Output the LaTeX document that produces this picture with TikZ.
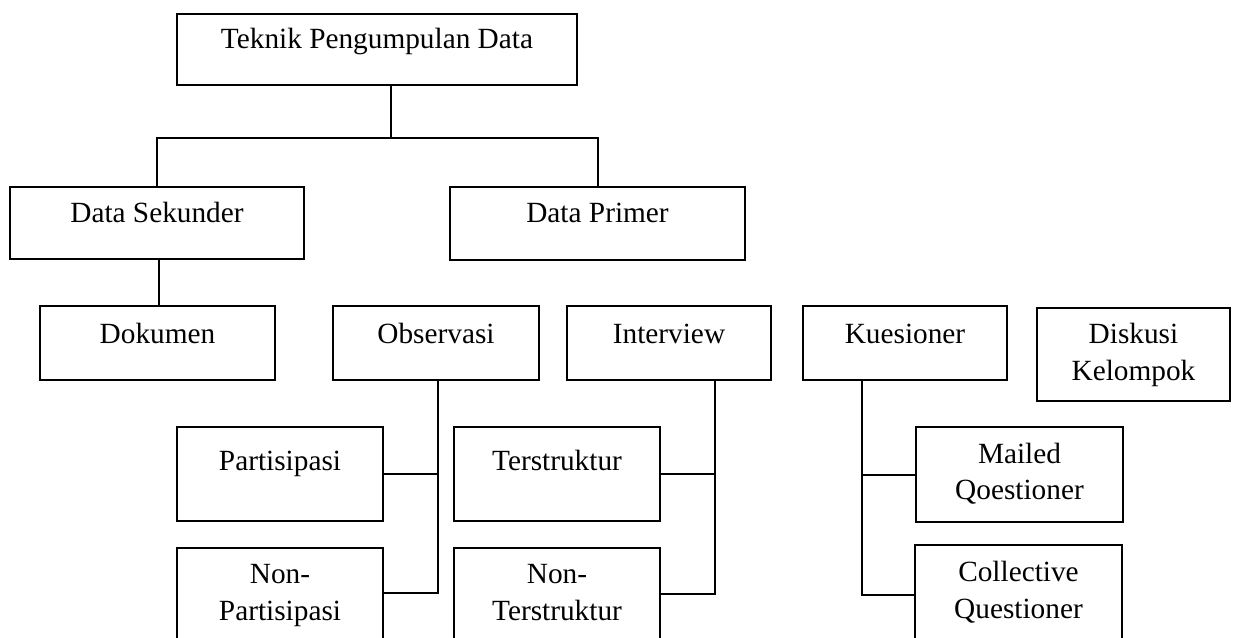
\documentclass[tikz,border=0pt]{standalone}
\usepackage{fontspec}
\setmainfont{Liberation Serif}
\newcommand\mlines[1]{\begin{tabular}[t]{@{}c@{}}#1\end{tabular}}
\begin{document}
\begin{tikzpicture}[x=1pt,y=-1pt,
  box/.style={draw, line width=2.5pt, rectangle, inner sep=0pt},
  txt/.style={anchor=base, inner sep=0pt, font=\fontsize{29.3}{36.5}\selectfont},
  conn/.style={line width=2pt}]
\useasboundingbox (0,0) rectangle (1233,637);
\clip (0,0) rectangle (1233,637);
% boxes
\node[box, minimum width=400pt, minimum height=71pt] (root) at (377,49.5) {};
\node[box, minimum width=294pt, minimum height=72pt] (sek) at (157,223) {};
\node[box, minimum width=295pt, minimum height=73pt] (prim) at (597.5,223.5) {};
\node[box, minimum width=235pt, minimum height=74pt] (dok) at (157.5,343) {};
\node[box, minimum width=206pt, minimum height=74pt] (obs) at (436,343) {};
\node[box, minimum width=204pt, minimum height=74pt] (int) at (669,343) {};
\node[box, minimum width=204pt, minimum height=74pt] (kue) at (905,343) {};
\node[box, minimum width=193pt, minimum height=93pt] (disk) at (1133.5,354.5) {};
\node[box, minimum width=206pt, minimum height=94pt] (part) at (280,474) {};
\node[box, minimum width=206pt, minimum height=112pt] (npart) at (280,604) {};
\node[box, minimum width=206pt, minimum height=94pt] (ters) at (557,474) {};
\node[box, minimum width=206pt, minimum height=112pt] (nters) at (557,604) {};
\node[box, minimum width=207pt, minimum height=95pt] (mail) at (1019.5,474.5) {};
\node[box, minimum width=207pt, minimum height=115pt] (coll) at (1018.5,602.5) {};
% texts
\node[txt] (root-t) at ([yshift=-35.5pt]root.north) {Teknik Pengumpulan Data};
\node[txt] (sek-t) at ([yshift=-37pt]sek.north) {Data Sekunder};
\node[txt] (prim-t) at ([yshift=-37pt]prim.north) {Data Primer};
\node[txt] (dok-t) at ([yshift=-39pt]dok.north) {Dokumen};
\node[txt] (obs-t) at ([yshift=-39pt]obs.north) {Observasi};
\node[txt] (int-t) at ([yshift=-39pt]int.north) {Interview};
\node[txt] (kue-t) at ([yshift=-39pt]kue.north) {Kuesioner};
\node[txt] (disk-t) at ([yshift=-37pt]disk.north) {\mlines{Diskusi\\Kelompok}};
\node[txt] (part-t) at ([yshift=-45pt]part.north) {Partisipasi};
\node[txt] (npart-t) at ([yshift=-37pt]npart.north) {\mlines{Non-\\Partisipasi}};
\node[txt] (ters-t) at ([yshift=-45pt]ters.north) {Terstruktur};
\node[txt] (nters-t) at ([yshift=-37pt]nters.north) {\mlines{Non-\\Terstruktur}};
\node[txt] (mail-t) at ([yshift=-37.5pt]mail.north) {\mlines{Mailed\\Qoestioner}};
\node[txt] (coll-t) at ([yshift=-38pt]coll.north) {\mlines{Collective\\Questioner}};
% junctions
\coordinate (rj) at (390.5,138);
\coordinate (oj) at (437.5,593);
\coordinate (ij) at (715,594);
\coordinate (kj) at (862,595);
% connectors
\draw[conn] (rj |- root.south) -- (rj);
\draw[conn] (sek.north) |- (rj) -| (prim.north);
\draw[conn] (sek.south -| 159,0) -- (dok.north -| 159,0);
\draw[conn] (oj |- obs.south) -- (oj) -- (oj -| npart.east);
\draw[conn] (part.east) -- (part.east -| oj);
\draw[conn] (ij |- int.south) -- (ij) -- (ij -| nters.east);
\draw[conn] (ters.east) -- (ters.east -| ij);
\draw[conn] (kj |- kue.south) -- (kj) -- (kj -| coll.west);
\draw[conn] (mail.west) -- (mail.west -| kj);
\end{tikzpicture}
\end{document}
